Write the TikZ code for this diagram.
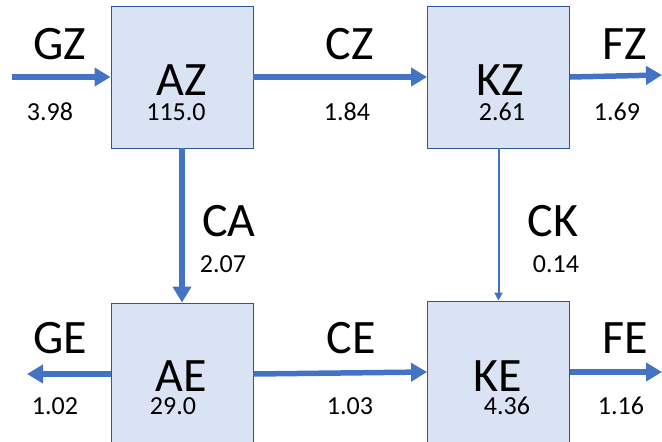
\documentclass[tikz,border=0pt]{standalone}
\usepackage{fontspec}
\setmainfont{Carlito}
\usetikzlibrary{arrows.meta}
\definecolor{flowblue}{HTML}{4472C4}
\definecolor{boxfill}{HTML}{DAE3F3}
\definecolor{boxline}{HTML}{2F5597}
\begin{document}
\begin{tikzpicture}[x=1pt,y=-1pt,
  box/.style={draw=boxline,line width=0.9pt,fill=boxfill,minimum width=142pt,minimum height=142pt,inner sep=0pt},
  big/.style={anchor=base,font=\fontsize{48}{50}\selectfont,inner sep=0pt,text height=31pt,text depth=0pt},
  small/.style={anchor=base,font=\fontsize{26}{28}\selectfont,inner sep=0pt,text height=17pt,text depth=0pt},
  thick flow/.style={draw=flowblue,line width=5.5pt,-{Triangle[length=16pt,width=18pt]}},
  thin flow/.style={draw=flowblue,line width=2pt,-{Triangle[length=8pt,width=8pt]}}]
\useasboundingbox (0,0) rectangle (662,442);
\clip (0,0) rectangle (662,442);
% boxes
\node[box] (AZ) at (182,77) {};
\node[box] (KZ) at (498.5,77) {};
\node[box] (AE) at (182,374) {};
\node[box] (KE) at (498.5,372) {};
% free ends
\coordinate (gzin) at (12,77);
\coordinate (fzout) at (662,75);
\coordinate (geout) at (27,374);
\coordinate (feout) at (662,372);
% connectors
\draw[thick flow] (gzin) -- (AZ.west);
\draw[thick flow] (AZ.east) -- (KZ.west);
\draw[thick flow] (KZ.east) -- (fzout);
\draw[thick flow] (AZ.south) -- (AE.north);
\draw[thin flow] (KZ.south) -- (KE.north);
\draw[thick flow] (AE.west) -- (geout);
\draw[thick flow] (AE.east) -- (KE.west);
\draw[thick flow] (KE.east) -- (feout);
% box texts
\node[big] (tAZ) at (182,95) {AZ};
\node[small] (vAZ) at (176,120) {115.0};
\node[big] (tKZ) at (500,95) {KZ};
\node[small] (vKZ) at (502,120) {2.61};
\node[big] (tAE) at (181,391) {AE};
\node[small] (vAE) at (173,414) {29.0};
\node[big] (tKE) at (498,391) {KE};
\node[small] (vKE) at (507,414) {4.36};
% flow labels
\node[big] (lGZ) at (60,59) {GZ};
\node[small] (nGZ) at (50,120) {3.98};
\node[big] (lCZ) at (350,59) {CZ};
\node[small] (nCZ) at (347,120) {1.84};
\node[big] (lFZ) at (625,59) {FZ};
\node[small] (nFZ) at (617,120) {1.69};
\node[big] (lCA) at (229,236) {CA};
\node[small] (nCA) at (223,272) {2.07};
\node[big] (lCK) at (553,236) {CK};
\node[small] (nCK) at (556,272) {0.14};
\node[big] (lGE) at (60,353) {GE};
\node[small] (nGE) at (55,414) {1.02};
\node[big] (lCE) at (351,353) {CE};
\node[small] (nCE) at (350,414) {1.03};
\node[big] (lFE) at (625,353) {FE};
\node[small] (nFE) at (621,414) {1.16};
\end{tikzpicture}
\end{document}
